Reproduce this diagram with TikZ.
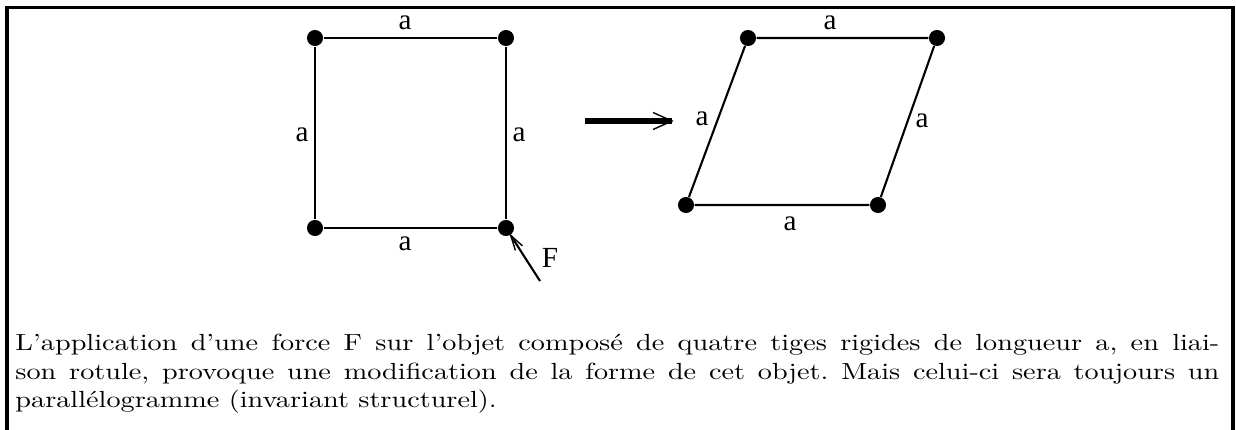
\documentclass[tikz,border=0pt]{standalone}
\usepackage{fontspec}
\newfontfamily\labfont{Liberation Serif}
\newfontfamily\capfont{lmroman10-regular.otf}[FakeStretch=1.21,Ligatures=TeX]
\usetikzlibrary{arrows.meta}
\begin{document}
\begin{tikzpicture}[x=0.4286pt,y=-0.4286pt,
  dot/.style={circle,fill=black,inner sep=0pt,minimum size=6.9pt},
  rod/.style={line width=0.9pt},
  lab/.style={font=\labfont\fontsize{12.5}{14}\selectfont, inner sep=0pt, anchor=base},
  framestyle/.style={line width=1.3pt},
  forcearrow/.style={line width=0.9pt,-{Straight Barb[length=6.5pt,width=3.6pt,line width=0.6pt]}, shorten >=-1pt},
  bigshaft/.style={line width=2.6pt},
  bighead/.style={line width=0.6pt}]
\useasboundingbox (0,0) rectangle (1236,430);
\draw[framestyle] (7,445) -- (7,7.5) -- (1233,7.5) -- (1233,445);
% left square
\node[dot] (tl) at (315,38) {};
\node[dot] (tr) at (506,38) {};
\node[dot] (bl) at (315,228) {};
\node[dot] (br) at (506,228) {};
\draw[rod] (tl) -- (tr) -- (br) -- (bl) -- (tl);
\node[lab] (la1) at (405,30) {a};
\node[lab] (la2) at (302,142) {a};
\node[lab] (la3) at (519,142) {a};
\node[lab] (la4) at (405,251) {a};
% force
\coordinate (fs) at (540,281);
\draw[forcearrow] (fs) -- (br);
\node[lab] (fl) at (550,268) {F};
% big arrow
\coordinate (as) at (585,121);
\coordinate (ae) at (672,121);
\draw[bigshaft] (as) -- (ae);
\draw[bighead] (653,112.5) -- (ae) -- (653,129.5);
% parallelogram
\node[dot] (ptl) at (748,38) {};
\node[dot] (ptr) at (937,38) {};
\node[dot] (pbl) at (686,205) {};
\node[dot] (pbr) at (878,205) {};
\draw[rod] (ptl) -- (ptr) -- (pbr) -- (pbl) -- (ptl);
\node[lab] (pa1) at (830,30) {a};
\node[lab] (pa2) at (702,126) {a};
\node[lab] (pa3) at (922,128) {a};
\node[lab] (pa4) at (790,231) {a};
% caption
\node[anchor=north west, inner sep=0pt, text width=516pt, align=justify,
  font=\capfont\fontsize{10}{12.2}\selectfont\frenchspacing] (cap) at (15,334)
 {L'application d'une force F sur l'objet composé de quatre tiges rigides de longueur a, en liai-\linebreak son rotule, provoque une modification de la forme de cet objet. Mais celui-ci sera toujours un\linebreak parallélogramme (invariant structurel).};
\end{tikzpicture}
\end{document}
